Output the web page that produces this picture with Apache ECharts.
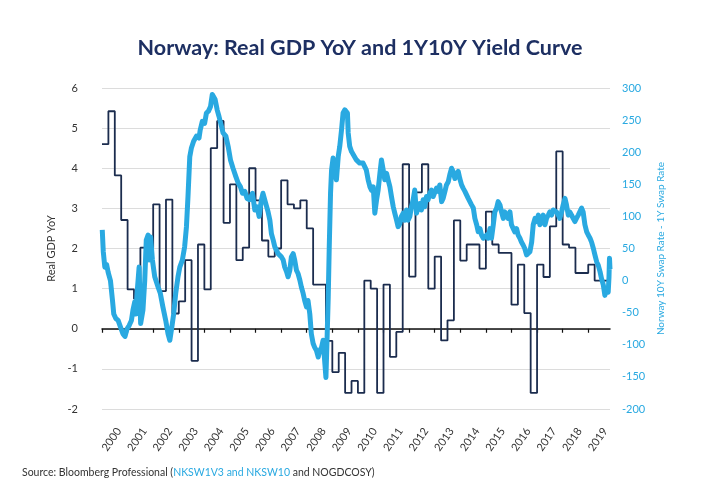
<!DOCTYPE html>
<html>
<head>
<meta charset="utf-8">
<script src="https://cdn.jsdelivr.net/npm/echarts@6/dist/echarts.min.js"></script>
<style>
  html, body { margin: 0; padding: 0; background: #fff; }
  #chart { width: 720px; height: 500px; }
</style>
</head>
<body>
<div id="chart"></div>
<script>
  // Real GDP YoY, quarterly (start of quarter as decimal year)
  var gdpQuarters = [
    2000.00, 2000.25, 2000.50, 2000.75, 2001.00, 2001.25, 2001.50, 2001.75,
    2002.00, 2002.25, 2002.50, 2002.75, 2003.00, 2003.25, 2003.50, 2003.75,
    2004.00, 2004.25, 2004.50, 2004.75, 2005.00, 2005.25, 2005.50, 2005.75,
    2006.00, 2006.25, 2006.50, 2006.75, 2007.00, 2007.25, 2007.50, 2007.75,
    2008.00, 2008.25, 2008.50, 2008.75, 2009.00, 2009.25, 2009.50, 2009.75,
    2010.00, 2010.25, 2010.50, 2010.75, 2011.00, 2011.25, 2011.50, 2011.75,
    2012.00, 2012.25, 2012.50, 2012.75, 2013.00, 2013.25, 2013.50, 2013.75,
    2014.00, 2014.25, 2014.50, 2014.75, 2015.00, 2015.25, 2015.50, 2015.75,
    2016.00, 2016.25, 2016.50, 2016.75, 2017.00, 2017.25, 2017.50, 2017.75,
    2018.00, 2018.25, 2018.50, 2018.75, 2019.00, 2019.25, 2019.50, 2019.75
  ];
  var gdpValues = [
    4.6, 5.42, 3.82, 2.71, 0.98, 0.75, 2.02, 2.02,
    3.1, 0.94, 3.22, 0.38, 0.68, 1.71, -0.8, 2.1,
    0.98, 4.5, 5.18, 2.64, 3.6, 1.71, 2.02, 4.0,
    3.2, 2.2, 1.8, 2.0, 3.7, 3.1, 3.0, 3.2,
    2.5, 1.1, 1.1, -0.3, -1.08, -0.6, -1.6, -1.3,
    -1.6, 1.2, 1.0, -1.6, 1.1, -0.7, -0.08, 4.1,
    1.3, 3.4, 4.1, 1.0, 1.8, -0.29, 0.21, 2.7,
    1.7, 2.1, 2.1, 1.5, 2.92, 2.1, 1.89, 1.89,
    0.6, 1.6, 0.39, -1.6, 1.6, 1.29, 2.55, 4.42,
    2.1, 2.02, 1.39, 1.39, 1.6, 1.2, 1.2, 1.2
  ];

  // 10Y swap - 1Y swap (bp)
  var swapDates = [
    2000.01, 2000.05, 2000.11, 2000.18, 2000.24, 2000.33, 2000.41, 2000.46, 2000.54, 2000.63,
    2000.72, 2000.82, 2000.90, 2000.98, 2001.06, 2001.15, 2001.21, 2001.28, 2001.32, 2001.37,
    2001.45, 2001.47, 2001.51, 2001.60, 2001.67, 2001.73, 2001.80, 2001.84, 2001.90, 2001.97,
    2002.06, 2002.19, 2002.28, 2002.38, 2002.49, 2002.58, 2002.65, 2002.73, 2002.80, 2002.88,
    2002.97, 2003.04, 2003.14, 2003.23, 2003.30, 2003.36, 2003.43, 2003.49, 2003.58, 2003.69,
    2003.79, 2003.84, 2003.92, 2004.01, 2004.08, 2004.16, 2004.24, 2004.31, 2004.37, 2004.42,
    2004.50, 2004.57, 2004.67, 2004.73, 2004.84, 2004.93, 2005.02, 2005.12, 2005.23, 2005.32,
    2005.41, 2005.49, 2005.58, 2005.67, 2005.77, 2005.88, 2005.97, 2006.06, 2006.14, 2006.23,
    2006.29, 2006.40, 2006.49, 2006.56, 2006.62, 2006.69, 2006.75, 2006.82, 2006.88, 2006.95,
    2007.01, 2007.08, 2007.14, 2007.21, 2007.27, 2007.34, 2007.40, 2007.47, 2007.53, 2007.60,
    2007.66, 2007.73, 2007.79, 2007.86, 2007.92, 2007.99, 2008.05, 2008.12, 2008.18, 2008.25,
    2008.31, 2008.38, 2008.45, 2008.51, 2008.58, 2008.64, 2008.71, 2008.75, 2008.80, 2008.84,
    2008.88, 2008.93, 2008.97, 2009.03, 2009.10, 2009.16, 2009.23, 2009.29, 2009.36, 2009.42,
    2009.49, 2009.55, 2009.59, 2009.62, 2009.68, 2009.75, 2009.81, 2009.94, 2010.07, 2010.20,
    2010.33, 2010.40, 2010.47, 2010.53, 2010.60, 2010.66, 2010.73, 2010.79, 2010.86, 2010.92,
    2010.99, 2011.05, 2011.12, 2011.18, 2011.25, 2011.31, 2011.38, 2011.44, 2011.51, 2011.57,
    2011.64, 2011.70, 2011.77, 2011.83, 2011.90, 2011.96, 2012.03, 2012.09, 2012.16, 2012.22,
    2012.29, 2012.35, 2012.42, 2012.48, 2012.55, 2012.61, 2012.68, 2012.74, 2012.81, 2012.87,
    2012.94, 2013.01, 2013.07, 2013.14, 2013.20, 2013.27, 2013.33, 2013.40, 2013.46, 2013.53,
    2013.59, 2013.66, 2013.72, 2013.79, 2013.85, 2013.92, 2013.98, 2014.05, 2014.11, 2014.18,
    2014.31, 2014.44, 2014.51, 2014.57, 2014.64, 2014.70, 2014.77, 2014.83, 2014.90, 2014.96,
    2015.03, 2015.09, 2015.16, 2015.22, 2015.29, 2015.35, 2015.42, 2015.48, 2015.55, 2015.61,
    2015.68, 2015.74, 2015.81, 2015.87, 2015.94, 2016.00, 2016.07, 2016.13, 2016.20, 2016.26,
    2016.33, 2016.39, 2016.46, 2016.52, 2016.59, 2016.66, 2016.72, 2016.79, 2016.85, 2016.92,
    2016.98, 2017.05, 2017.11, 2017.18, 2017.24, 2017.31, 2017.37, 2017.44, 2017.50, 2017.57,
    2017.63, 2017.70, 2017.76, 2017.83, 2017.89, 2017.96, 2018.02, 2018.09, 2018.15, 2018.22,
    2018.28, 2018.35, 2018.41, 2018.48, 2018.54, 2018.61, 2018.67, 2018.74, 2018.80, 2018.87,
    2018.94, 2019.00, 2019.07, 2019.13, 2019.20, 2019.26, 2019.33, 2019.39, 2019.46, 2019.52,
    2019.59, 2019.65, 2019.72, 2019.78, 2019.81, 2019.83, 2019.85
  ];
  var swapValues = [
    79, 45, 21, 25, 13, 0, -31, -52, -59, -62,
    -72, -83, -87, -75, -70, -62, -46, -33, -52, -20,
    21, -10, -67, -46, 0, 63, 71, 32, 68, 32,
    6, -10, -20, -41, -62, -83, -93, -72, -52, -20,
    6, 21, 32, 53, 84, 131, 193, 206, 217, 225,
    222, 235, 248, 245, 261, 264, 271, 290, 292, 282,
    266, 256, 240, 230, 225, 209, 188, 175, 162, 152,
    146, 136, 139, 128, 126, 136, 110, 115, 100, 126,
    136, 120, 107, 94, 73, 63, 53, 47, 42, 45,
    37, 32, 21, 14, 6, 16, 37, 42, 32, 16,
    11, 1, -10, -20, -31, -41, -31, -52, -83, -98,
    -104, -109, -119, -109, -104, -93, -130, -151, -83, -26,
    53, 136, 172, 191, 167, 157, 193, 209, 235, 261,
    266, 269, 261, 230, 209, 201, 198, 188, 183, 183,
    172, 157, 146, 141, 146, 105, 126, 141, 167, 188,
    172, 157, 167, 157, 146, 131, 115, 105, 94, 84,
    89, 100, 105, 94, 110, 94, 100, 115, 126, 141,
    105, 115, 120, 110, 126, 115, 131, 126, 136, 141,
    131, 133, 144, 139, 149, 123, 128, 139, 149, 154,
    165, 175, 170, 159, 165, 170, 159, 149, 144, 139,
    128, 118, 113, 97, 87, 76, 81, 71, 66, 63,
    71, 66, 81, 66, 87, 107, 113, 123, 118, 107,
    97, 107, 102, 97, 107, 87, 81, 76, 81, 71,
    66, 60, 55, 50, 40, 37, 45, 60, 87, 97,
    92, 102, 87, 92, 102, 87, 97, 102, 107, 102,
    110, 113, 107, 102, 97, 107, 118, 128, 118, 102,
    107, 102, 97, 92, 97, 102, 107, 113, 107, 87,
    76, 71, 66, 60, 50, 40, 29, 24, 14, 3,
    -7, -23, -13, -18, 5, 35, 18
  ];

  var yearTicks = [2000, 2001, 2002, 2003, 2004, 2005, 2006, 2007, 2008, 2009,
                   2010, 2011, 2012, 2013, 2014, 2015, 2016, 2017, 2018, 2019];

  var NAVY = '#1b2c4e',
      BLUE = '#29a9e1',
      TEXT = '#333333',
      FONT = 'Lato';

  var chart = echarts.init(document.getElementById('chart'), null, { renderer: 'canvas' });

  var gdpData = gdpQuarters.map(function(t, i) { return [t, gdpValues[i]]; });
  var swapData = swapDates.map(function(t, i) { return [t, swapValues[i]]; });

  // labels sit a bit to the right of each tick in the original
  var labelSpots = yearTicks.map(function(y) { return y + 0.66; });

  chart.setOption({
    animation: false,
    backgroundColor: '#ffffff',
    textStyle: { fontFamily: FONT },
    title: {
      text: 'Norway: Real GDP YoY and 1Y10Y Yield Curve',
      left: 'center',
      top: 32,
      textStyle: { fontFamily: FONT, fontWeight: 'bold', fontSize: 21.5, color: '#1d2f62' }
    },
    graphic: [{
      type: 'text',
      left: 22,
      top: 467,
      style: {
        text: '{a|Source: Bloomberg Professional (}{b|NKSW1V3 and NKSW10}{a| and NOGDCOSY)}',
        rich: {
          a: { fontFamily: FONT, fontSize: 10.5, fill: TEXT, color: TEXT },
          b: { fontFamily: FONT, fontSize: 10.5, fill: BLUE, color: BLUE }
        }
      }
    }],
    grid: { left: 102, right: 110, top: 88, bottom: 91, containLabel: false },
    xAxis: [{
      type: 'value',
      min: 2000,
      max: 2019.85,
      axisLine: { onZero: true, lineStyle: { color: '#111', width: 1.5 } },
      axisTick: { show: true, length: 4, customValues: yearTicks, lineStyle: { color: '#111', width: 1.2 } },
      axisLabel: { show: false },
      splitLine: { show: false }
    }, {
      type: 'value',
      min: 2000,
      max: 2019.85,
      position: 'bottom',
      axisLine: { show: false, onZero: false },
      axisTick: { show: false },
      splitLine: { show: false },
      axisLabel: {
        customValues: labelSpots,
        rotate: 55,
        margin: 20,
        fontSize: 11,
        color: TEXT,
        fontFamily: FONT,
        formatter: function(v) { return String(Math.floor(v)); }
      }
    }],
    yAxis: [{
      type: 'value',
      min: -2,
      max: 6,
      interval: 1,
      name: 'Real GDP YoY',
      nameLocation: 'middle',
      nameRotate: 90,
      nameGap: 42,
      nameTextStyle: { fontFamily: FONT, fontSize: 11, color: TEXT },
      axisLine: { show: false },
      axisTick: { show: false },
      axisLabel: { margin: 24, fontSize: 11, color: TEXT, fontFamily: FONT },
      splitLine: { lineStyle: { color: '#dcdcdc', width: 1 } }
    }, {
      type: 'value',
      min: -200,
      max: 300,
      interval: 50,
      position: 'right',
      name: 'Norway 10Y Swap Rate - 1Y Swap Rate',
      nameLocation: 'middle',
      nameRotate: 90,
      nameGap: 36,
      nameTextStyle: { fontFamily: FONT, fontSize: 10, color: BLUE },
      axisLine: { show: false },
      axisTick: { show: false },
      axisLabel: { margin: 12, fontSize: 11, color: BLUE, fontFamily: FONT },
      splitLine: { show: false }
    }],
    series: [{
      name: 'Real GDP YoY',
      type: 'line',
      xAxisIndex: 0,
      yAxisIndex: 0,
      step: 'end',
      data: gdpData,
      showSymbol: false,
      lineStyle: { color: NAVY, width: 1.8 },
      z: 2
    }, {
      name: 'Swap spread',
      type: 'line',
      xAxisIndex: 0,
      yAxisIndex: 1,
      data: swapData,
      showSymbol: false,
      lineStyle: { color: BLUE, width: 5, join: 'round' },
      z: 3
    }]
  });
</script>
</body>
</html>
